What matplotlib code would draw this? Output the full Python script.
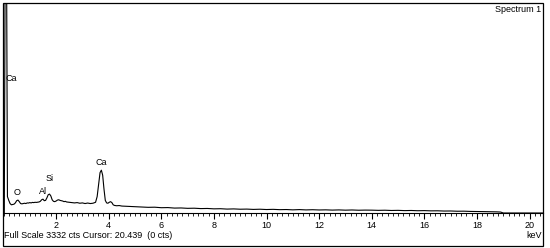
import matplotlib
matplotlib.use("Agg")
import matplotlib.pyplot as plt
from matplotlib.patches import Rectangle
from matplotlib.ticker import MultipleLocator

plt.rcParams['font.family'] = ['Liberation Sans', 'DejaVu Sans']

# spectrum (energy in keV, counts)
energy = [0.00, 0.03, 0.06, 0.12, 0.15, 0.20, 0.25, 0.30, 0.35, 0.40,
          0.45, 0.50, 0.55, 0.60, 0.65, 0.70, 0.75, 0.80, 0.85, 0.90,
          0.95, 1.00, 1.05, 1.10, 1.15, 1.20, 1.25, 1.30, 1.35, 1.40,
          1.45, 1.50, 1.55, 1.60, 1.65, 1.70, 1.75, 1.80, 1.85, 1.90,
          1.95, 2.00, 2.05, 2.10, 2.15, 2.20, 2.25, 2.30, 2.35, 2.40,
          2.50, 2.60, 2.70, 2.80, 2.90, 3.00, 3.10, 3.20, 3.30, 3.40,
          3.50, 3.56, 3.62, 3.67, 3.72, 3.77, 3.82, 3.87, 3.92, 3.97,
          4.02, 4.07, 4.12, 4.17, 4.22, 4.30, 4.40, 4.50, 4.75, 5.00,
          5.25, 5.50, 5.75, 6.00, 6.25, 6.50, 6.75, 7.00, 7.25, 7.50,
          7.75, 8.00, 8.25, 8.50, 8.75, 9.00, 9.25, 9.50, 9.75, 10.00,
          10.25, 10.50, 10.75, 11.00, 11.25, 11.50, 11.75, 12.00, 12.25, 12.50,
          12.75, 13.00, 13.25, 13.50, 13.75, 14.00, 14.25, 14.50, 14.75, 15.00,
          15.25, 15.50, 15.75, 16.00, 16.25, 16.50, 16.75, 17.00, 17.25, 17.50,
          17.75, 18.00, 18.25, 18.50, 18.75, 18.90, 19.00, 20.51]
counts = [0, 0, 3600, 3600, 260, 200, 150, 130, 135, 140,
          160, 195, 205, 180, 150, 145, 150, 155, 150, 160,
          158, 165, 160, 168, 165, 170, 168, 172, 175, 185,
          210, 220, 195, 200, 240, 290, 300, 270, 210, 185,
          180, 190, 205, 210, 200, 195, 190, 180, 185, 175,
          170, 165, 160, 165, 155, 160, 150, 158, 150, 155,
          170, 260, 470, 640, 680, 600, 380, 200, 160, 155,
          170, 180, 165, 130, 120, 115, 118, 110, 105, 100,
          96, 90, 92, 84, 86, 78, 80, 74, 76, 70,
          72, 66, 68, 62, 65, 60, 62, 57, 60, 55,
          58, 53, 55, 50, 54, 49, 52, 48, 50, 46,
          49, 45, 48, 44, 46, 45, 42, 44, 40, 42,
          38, 40, 36, 38, 34, 35, 31, 32, 28, 29,
          25, 24, 22, 20, 18, 15, 0, 0]

# element labels: (text, energy, height of label)
peak_labels = ['Ca', 'O', 'Al', 'Si', 'Ca']
label_energy = [0.30, 0.53, 1.52, 1.77, 3.73]
label_counts = [2140, 330, 345, 550, 805]

full_scale = 3332
x_max = 20.51


def fig_xy(px, py):
    return px / 550, 1 - py / 248


fig = plt.figure(figsize=(5.5, 2.48), dpi=100)
fig.patch.set_facecolor('white')

left, top = fig_xy(3.5, 3)
right, bottom = fig_xy(543, 213)
ax = fig.add_axes([left, bottom, right - left, top - bottom])

ax.plot(energy, counts, color='black', lw=0.8)
for t, e, c in zip(peak_labels, label_energy, label_counts):
    ax.text(e, c, t, fontsize=6.5, ha='center', va='center')

ax.set_xlim(0, x_max)
ax.set_ylim(0, full_scale)
ax.set_yticks([])
ax.xaxis.set_major_locator(MultipleLocator(2))
ax.xaxis.set_minor_locator(MultipleLocator(0.2))
ax.tick_params(axis='x', which='major', direction='out', length=4,
               width=0.8, pad=2, labelsize=6.5)
ax.tick_params(axis='x', which='minor', direction='out', length=2, width=0.6)
ax.set_xticks([2, 4, 6, 8, 10, 12, 14, 16, 18, 20])
for s in ['left', 'top', 'right']:
    ax.spines[s].set_visible(False)
ax.spines['bottom'].set_linewidth(0.8)

# outer frame
x0, y0 = fig_xy(3, 246)
x1, y1 = fig_xy(543, 3)
fig.add_artist(Rectangle((x0, y0), x1 - x0, y1 - y0, transform=fig.transFigure,
                         fill=False, edgecolor='black', lw=0.9))

fig.text(*fig_xy(541, 10), 'Spectrum 1', fontsize=6.5, ha='right', va='center')
fig.text(*fig_xy(542, 236), 'keV', fontsize=6.5, ha='right', va='center')
fig.text(*fig_xy(4, 236), 'Full Scale 3332 cts Cursor: 20.439  (0 cts)',
         fontsize=6.5, ha='left', va='center')

fig.savefig('out.png', dpi=100)
